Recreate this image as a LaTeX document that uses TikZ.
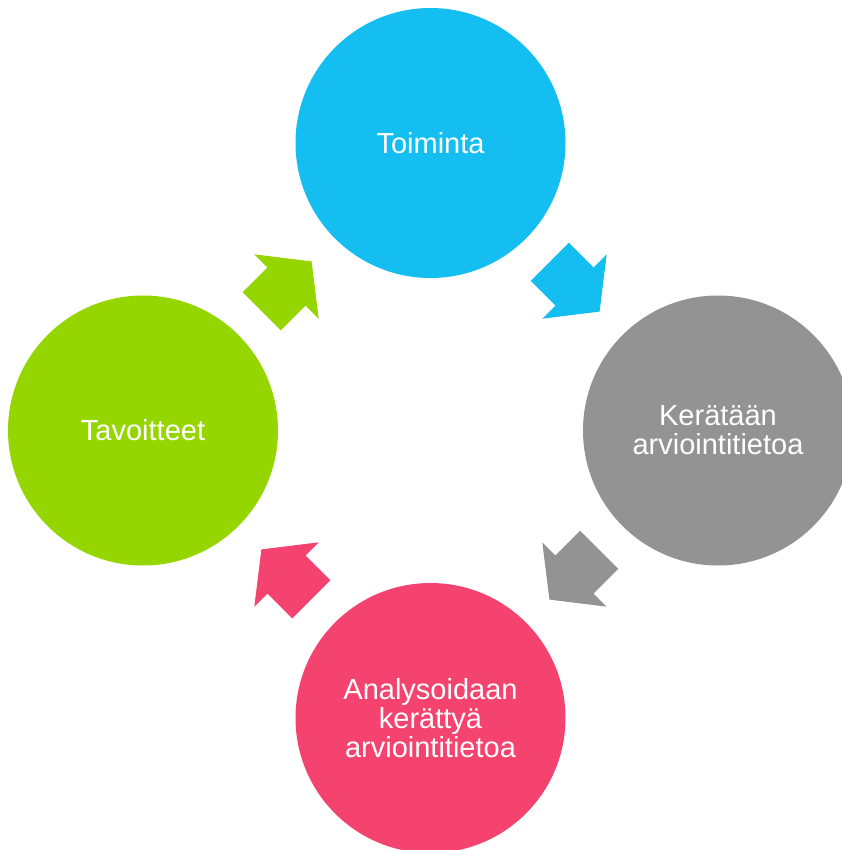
\documentclass[tikz,border=0pt]{standalone}
\usepackage{fontspec}
\setmainfont{Liberation Sans}
\definecolor{myblue}{RGB}{21,190,240}
\definecolor{mygray}{RGB}{147,147,147}
\definecolor{mypink}{RGB}{244,67,110}
\definecolor{mygreen}{RGB}{150,214,0}
\tikzstyle{mycircle}=[circle,fill=#1,draw=none,minimum size=202.5pt,inner sep=0pt,
                      align=center,text=white,font=\fontsize{21.75}{21.8}\selectfont]
\def\blockarrow[#1](#2)!#3!{
  \fill[#1,shift={(#2)},rotate=#3] (-35,-27) -- (0,-27) -- (0,-45.5) -- (35.5,0)
    -- (0,45.5) -- (0,27) -- (-35,27) -- cycle;
}

\begin{document}
\begin{tikzpicture}[x=0.75pt,y=-0.75pt]
  \def\r{287.5} % centre to circles
  \def\d{144} % centre to arrows, along each axis
  \useasboundingbox (0,0) rectangle (842,850);
  \coordinate (c) at (430.5,430.5);

  % top
  \path (c)++(0,-\r) node[mycircle=myblue] (toiminta) {Toiminta};
  % right
  \path (c)++(\r,0) node[mycircle=mygray] (keraa) {Kerätään\\arviointitietoa};
  % bottom
  \path (c)++(0,\r) node[mycircle=mypink] (analyysi) {Analysoidaan\\kerättyä\\arviointitietoa};
  % left
  \path (c)++(-\r,0) node[mycircle=mygreen] (tavoitteet) {Tavoitteet};

  % ARROWS
  \path (c)++(\d,-\d) coordinate (a1);
  \path (c)++(\d,\d) coordinate (a2);
  \path (c)++(-\d,\d) coordinate (a3);
  \path (c)++(-\d,-\d) coordinate (a4);
  \blockarrow[myblue](a1)!-45!;
  \blockarrow[mygray](a2)!-135!;
  \blockarrow[mypink](a3)!135!;
  \blockarrow[mygreen](a4)!45!;
\end{tikzpicture}
\end{document}
